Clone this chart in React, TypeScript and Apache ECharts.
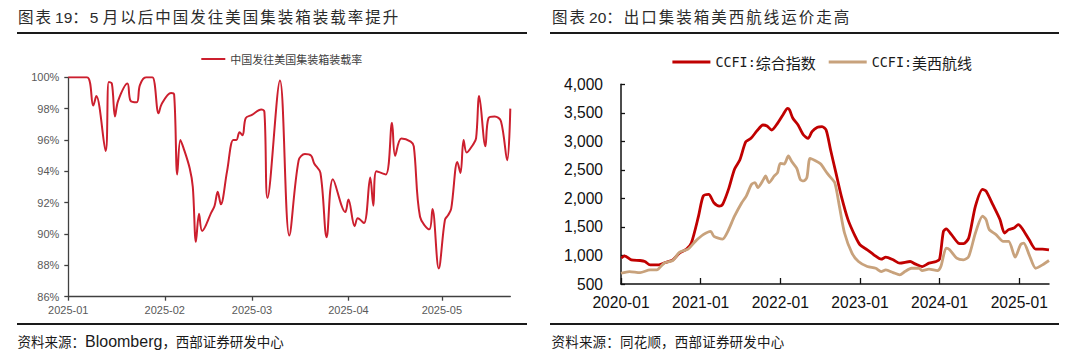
import React, { useEffect, useRef } from 'react';
import * as echarts from 'echarts';

// ---------- Chart 19: China -> US container loading rate (%) ----------
const loadDates = [
  '2025-01-01', '2025-01-07', '2025-01-09', '2025-01-10', '2025-01-13', '2025-01-14', '2025-01-15',
  '2025-01-16', '2025-01-17', '2025-01-20', '2025-01-21', '2025-01-23', '2025-01-24', '2025-01-26',
  '2025-01-28', '2025-01-30', '2025-01-31', '2025-02-03', '2025-02-04', '2025-02-05', '2025-02-06',
  '2025-02-07', '2025-02-09', '2025-02-10', '2025-02-11', '2025-02-12', '2025-02-13', '2025-02-16',
  '2025-02-17', '2025-02-18', '2025-02-19', '2025-02-21', '2025-02-23', '2025-02-24', '2025-02-25',
  '2025-02-26', '2025-02-27', '2025-03-01', '2025-03-04', '2025-03-05', '2025-03-06', '2025-03-10',
  '2025-03-13', '2025-03-16', '2025-03-18', '2025-03-20', '2025-03-21', '2025-03-23', '2025-03-25',
  '2025-03-27', '2025-03-31', '2025-04-01', '2025-04-03', '2025-04-04', '2025-04-06', '2025-04-08',
  '2025-04-09', '2025-04-10', '2025-04-13', '2025-04-15', '2025-04-16', '2025-04-18', '2025-04-21',
  '2025-04-22', '2025-04-24', '2025-04-27', '2025-04-28', '2025-04-30', '2025-05-02', '2025-05-03',
  '2025-05-04', '2025-05-06', '2025-05-07', '2025-05-08', '2025-05-09', '2025-05-11', '2025-05-12',
  '2025-05-13', '2025-05-15', '2025-05-16', '2025-05-18', '2025-05-20', '2025-05-22', '2025-05-23',
];
const loadRates = [
  100, 100, 98.2, 98.8, 95.3, 99.7, 99.6,
  97.5, 98.5, 99.6, 98.5, 98.4, 99.5, 100,
  100, 97.7, 98.3, 99.0, 98.9, 93.8, 96.0,
  95.5, 94.2, 93.0, 89.5, 91.3, 90.2, 91.4,
  91.8, 92.7, 91.9, 94.0, 96.0, 96.0, 96.5,
  96.3, 97.4, 97.6, 97.95, 97.8, 92.3, 99.8,
  89.9, 94.7, 95.1, 95.0, 94.5, 93.9, 89.8,
  93.5, 91.4, 92.2, 90.5, 91.0, 90.7, 93.6,
  91.8, 94.0, 93.8, 97.1, 95.0, 96.1, 95.9,
  95.6, 91.1, 90.3, 91.6, 87.8, 90.9, 91.2,
  91.6, 94.6, 93.9, 96.0, 95.2, 95.7, 96.1,
  98.8, 95.6, 97.4, 97.5, 97.2, 94.7, 98.0,
];
const loadAxisStart = '2025-01-01';
const loadAxisEnd = '2025-05-23';
const loadTickDates = ['2025-01-01', '2025-02-01', '2025-03-01', '2025-04-01', '2025-05-01'];
const loadTickLabels = ['2025-01', '2025-02', '2025-03', '2025-04', '2025-05'];

// ---------- Chart 20: CCFI composite and US West route ----------
const compDates = [
  '2020-01-03', '2020-01-17', '2020-02-17', '2020-03-28', '2020-04-19', '2020-05-13', '2020-06-22',
  '2020-07-22', '2020-08-26', '2020-09-25', '2020-10-28', '2020-11-19', '2020-12-22', '2021-01-13',
  '2021-02-07', '2021-03-01', '2021-03-26', '2021-04-10', '2021-05-07', '2021-06-04', '2021-06-28',
  '2021-07-26', '2021-08-19', '2021-09-16', '2021-10-13', '2021-11-01', '2021-11-22', '2021-12-19',
  '2022-01-13', '2022-02-04', '2022-02-12', '2022-02-26', '2022-03-22', '2022-04-16', '2022-05-07',
  '2022-05-25', '2022-06-19', '2022-07-10', '2022-07-29', '2022-08-19', '2022-09-13', '2022-10-07',
  '2022-11-07', '2022-12-10', '2023-01-01', '2023-02-04', '2023-03-04', '2023-04-07', '2023-04-28',
  '2023-06-01', '2023-07-01', '2023-08-19', '2023-09-10', '2023-10-13', '2023-11-13', '2023-12-16',
  '2024-01-01', '2024-01-19', '2024-02-01', '2024-02-24', '2024-03-26', '2024-04-19', '2024-05-13',
  '2024-06-13', '2024-07-16', '2024-08-01', '2024-09-01', '2024-10-04', '2024-10-25', '2024-11-13',
  '2024-12-07', '2024-12-28', '2025-01-13', '2025-02-15', '2025-03-16', '2025-04-16', '2025-05-16',
];
const compValues = [
  953, 994, 924, 912, 894, 835, 835,
  876, 924, 1041, 1112, 1218, 1688, 2041,
  2071, 1924, 1865, 1894, 2159, 2512, 2673,
  2994, 3053, 3187, 3287, 3269, 3199, 3316,
  3462, 3579, 3550, 3404, 3287, 3111, 3053,
  3170, 3246, 3257, 3199, 2848, 2439, 2041,
  1629, 1335, 1188, 1100, 1012, 935, 971,
  924, 865, 894, 853, 806, 865, 894,
  935, 1424, 1465, 1365, 1218, 1206, 1306,
  1865, 2159, 2129, 1894, 1629, 1394, 1453,
  1482, 1541, 1482, 1276, 1112, 1112, 1100,
];
const westDates = [
  '2020-01-01', '2020-02-09', '2020-03-28', '2020-05-13', '2020-06-13', '2020-07-16', '2020-08-26',
  '2020-09-25', '2020-11-04', '2020-12-07', '2021-01-13', '2021-02-15', '2021-03-01', '2021-04-10',
  '2021-05-04', '2021-06-04', '2021-07-07', '2021-07-28', '2021-08-22', '2021-09-07', '2021-09-19',
  '2021-10-16', '2021-10-25', '2021-11-10', '2021-12-04', '2021-12-19', '2022-01-01', '2022-01-19',
  '2022-02-07', '2022-02-22', '2022-03-16', '2022-04-01', '2022-04-16', '2022-05-01', '2022-05-16',
  '2022-06-10', '2022-07-04', '2022-07-29', '2022-08-13', '2022-09-07', '2022-09-28', '2022-10-22',
  '2022-11-25', '2022-12-25', '2023-02-04', '2023-03-13', '2023-04-07', '2023-04-28', '2023-06-01',
  '2023-07-01', '2023-07-25', '2023-08-25', '2023-09-28', '2023-10-13', '2023-11-13', '2023-12-22',
  '2024-01-07', '2024-02-01', '2024-02-16', '2024-03-19', '2024-04-19', '2024-05-13', '2024-06-13',
  '2024-07-16', '2024-08-01', '2024-08-16', '2024-09-16', '2024-10-19', '2024-11-13', '2024-12-13',
  '2025-01-07', '2025-01-22', '2025-02-15', '2025-03-16', '2025-04-16', '2025-05-16',
];
const westValues = [
  688, 718, 700, 747, 747, 865, 912,
  1053, 1112, 1247, 1365, 1424, 1335, 1288,
  1424, 1688, 1924, 2041, 2247, 2276, 2188,
  2335, 2394, 2276, 2394, 2450, 2614, 2602,
  2743, 2643, 2526, 2335, 2306, 2365, 2702,
  2661, 2602, 2468, 2394, 2276, 1865, 1394,
  1041, 894, 806, 776, 718, 747, 700,
  659, 718, 776, 776, 735, 759, 735,
  806, 1129, 1100, 953, 924, 982, 1394,
  1688, 1629, 1453, 1365, 1247, 1247, 971,
  1188, 1218, 1012, 776, 835, 912,
];
const ccfiAxisEnd = '2025-05-16';
const ccfiTickDates = ['2020-01-01', '2021-01-01', '2022-01-01', '2023-01-01', '2024-01-01', '2025-01-01'];
const ccfiTickLabels = ['2020-01', '2021-01', '2022-01', '2023-01', '2024-01', '2025-01'];

// ---------- helpers ----------
const ymd = (s: string) => s.split('-').map(Number);
const dayOf = (s: string) => {
  const [y, m, d] = ymd(s);
  const [y0, m0, d0] = ymd(loadAxisStart);
  return Math.round((Date.UTC(y, m - 1, d) - Date.UTC(y0, m0 - 1, d0)) / 86400000);
};
const monthOf = (s: string) => {
  const [y, m, d] = ymd(s);
  const dim = new Date(Date.UTC(y, m, 0)).getUTCDate();
  return (y - 2020) * 12 + (m - 1) + (d - 1) / dim;
};

const CJK = '"Noto Sans CJK SC", "Noto Sans", sans-serif';
const LAT = '"Liberation Sans", Arial, sans-serif';

export default function App() {
  const ref = useRef<HTMLDivElement>(null);

  useEffect(() => {
    if (!ref.current) return;
    const chart = echarts.init(ref.current, null, { renderer: 'svg' });

    const loadTickDays = loadTickDates.map(dayOf);
    const ccfiTicks = ccfiTickDates.map(monthOf);

    const option: any = {
      animation: false,
      backgroundColor: '#ffffff',
      grid: [
        { left: 68.3, right: 569.7, top: 77.3, bottom: 55.3, outerBoundsMode: 'none', containLabel: false },
        { left: 621, right: 31, top: 84.3, bottom: 68, outerBoundsMode: 'none', containLabel: false },
      ],
      legend: [
        {
          data: ['中国发往美国集装箱装载率'],
          left: 196.3,
          top: 48.5,
          icon: 'rect',
          itemWidth: 24,
          itemHeight: 2,
          textStyle: { fontSize: 11, color: '#404040', fontFamily: CJK },
        },
        {
          data: ['CCFI:综合指数', 'CCFI:美西航线'],
          left: 667.4,
          top: 49.5,
          icon: 'rect',
          itemWidth: 38,
          itemHeight: 3,
          itemGap: 13,
          formatter: (name: string) => {
            const [a, b] = name.split(':');
            return `{a|${a}:}{b|${b}}`;
          },
          textStyle: {
            color: '#1a1a1a',
            rich: {
              a: { fontFamily: '"DejaVu Sans Mono", monospace', fontSize: 13.4, color: '#1a1a1a' },
              b: { fontFamily: CJK, fontSize: 15, color: '#1a1a1a' },
            },
          },
        },
      ],
      xAxis: [
        {
          gridIndex: 0,
          type: 'value',
          min: dayOf(loadAxisStart),
          max: dayOf(loadAxisEnd),
          splitLine: { show: false },
          axisLine: { show: true, onZero: false, lineStyle: { color: '#404040', width: 1.3 } },
          axisTick: { show: true, inside: false, length: 4, customValues: loadTickDays, lineStyle: { color: '#404040', width: 1.3 } },
          axisLabel: {
            customValues: loadTickDays,
            margin: 8,
            color: '#595959',
            fontSize: 11,
            fontFamily: LAT,
            formatter: (v: number) => {
              const i = loadTickDays.indexOf(Math.round(v));
              return i >= 0 ? loadTickLabels[i] : '';
            },
          },
        },
        {
          gridIndex: 1,
          type: 'value',
          min: 0,
          max: monthOf(ccfiAxisEnd),
          splitLine: { show: false },
          axisLine: { show: true, onZero: false, lineStyle: { color: '#111111', width: 1.5 } },
          axisTick: { show: true, inside: true, length: 6, customValues: ccfiTicks, lineStyle: { color: '#111111', width: 1.3 } },
          axisLabel: {
            customValues: ccfiTicks,
            margin: 10,
            color: '#111111',
            fontSize: 15.6,
            fontFamily: LAT,
            formatter: (v: number) => {
              const i = ccfiTicks.findIndex((t) => Math.abs(t - v) < 0.01);
              return i >= 0 ? ccfiTickLabels[i] : '';
            },
          },
        },
      ],
      yAxis: [
        {
          gridIndex: 0,
          type: 'value',
          min: 86,
          max: 100,
          interval: 2,
          splitLine: { show: false },
          axisLine: { show: true, lineStyle: { color: '#404040', width: 1.3 } },
          axisTick: { show: true, inside: false, length: 4, lineStyle: { color: '#404040', width: 1.3 } },
          axisLabel: { margin: 9, color: '#595959', fontSize: 11, fontFamily: LAT, formatter: (v: number) => `${v}%` },
        },
        {
          gridIndex: 1,
          type: 'value',
          min: 500,
          max: 4000,
          interval: 500,
          splitLine: { show: false },
          axisLine: { show: true, lineStyle: { color: '#111111', width: 1.5 } },
          axisTick: { show: true, inside: true, length: 4, lineStyle: { color: '#111111', width: 1.3 } },
          axisLabel: {
            margin: 18,
            color: '#111111',
            fontSize: 15.6,
            fontFamily: LAT,
            formatter: (v: number) => v.toLocaleString('en-US'),
          },
        },
      ],
      series: [
        {
          name: '中国发往美国集装箱装载率',
          type: 'line',
          xAxisIndex: 0,
          yAxisIndex: 0,
          data: loadDates.map((d, i) => [dayOf(d), loadRates[i]]),
          symbol: 'none',
          smooth: 0.35,
          color: '#CC1F2E',
          lineStyle: { width: 2, color: '#CC1F2E' },
        },
        {
          name: 'CCFI:综合指数',
          type: 'line',
          xAxisIndex: 1,
          yAxisIndex: 1,
          data: compDates.map((d, i) => [monthOf(d), compValues[i]]),
          symbol: 'none',
          smooth: 0.25,
          color: '#C00000',
          lineStyle: { width: 2.8, color: '#C00000' },
        },
        {
          name: 'CCFI:美西航线',
          type: 'line',
          xAxisIndex: 1,
          yAxisIndex: 1,
          data: westDates.map((d, i) => [monthOf(d), westValues[i]]),
          symbol: 'none',
          smooth: 0.25,
          color: '#C8A27C',
          lineStyle: { width: 2.8, color: '#C8A27C' },
        },
      ],
    };

    chart.setOption(option);
    return () => chart.dispose();
  }, []);

  const abs = (extra: React.CSSProperties): React.CSSProperties => ({
    position: 'absolute',
    whiteSpace: 'pre',
    pointerEvents: 'none',
    ...extra,
  });
  const cj = (ls: number): React.CSSProperties => ({ fontFamily: CJK, letterSpacing: `${ls}px` });
  const lt: React.CSSProperties = { fontFamily: LAT, letterSpacing: 0 };
  const rule = (left: number, right: number, top: number): React.CSSProperties =>
    abs({ left, top, width: right - left, height: 2, background: '#1a1a1a' });

  return (
    <div style={{ position: 'fixed', left: 0, top: 0, width: 1080, height: 352, background: '#ffffff', overflow: 'hidden' }}>
      <div ref={ref} style={{ position: 'absolute', left: 0, top: 0, width: 1080, height: 352 }} />

      {/* titles */}
      <div style={abs({ left: 18, top: 6, fontSize: 15.5, lineHeight: '20px', color: '#2b2b2b' })}>
        <span style={cj(2)}>图表</span>
        <span style={{ ...lt, marginLeft: 2 }}>19</span>
        <span style={cj(2)}>：</span>
        <span style={lt}>5 </span>
        <span style={cj(2)}>月以后中国发往美国集装箱装载率提升</span>
      </div>
      <div style={abs({ left: 552, top: 6, fontSize: 15.5, lineHeight: '20px', color: '#2b2b2b' })}>
        <span style={cj(2)}>图表</span>
        <span style={{ ...lt, marginLeft: 2 }}>20</span>
        <span style={cj(2)}>：出口集装箱美西航线运价走高</span>
      </div>

      {/* rules */}
      <div style={rule(17.2, 526.9, 31.7)} />
      <div style={rule(549.6, 1059.3, 31.7)} />
      <div style={rule(17.2, 526.9, 323)} />
      <div style={rule(549.6, 1059.3, 323)} />

      {/* sources */}
      <div style={abs({ left: 17.5, top: 333, fontSize: 13.5, lineHeight: '17px', color: '#1a1a1a' })}>
        <span style={cj(0)}>资料来源：</span>
        <span style={{ ...lt, fontSize: 16 }}>Bloomberg</span>
        <span style={cj(0)}>，西部证券研发中心</span>
      </div>
      <div style={abs({ left: 551.5, top: 333, fontSize: 13.5, lineHeight: '17px', color: '#1a1a1a' })}>
        <span style={cj(0.2)}>资料来源：同花顺，西部证券研发中心</span>
      </div>
    </div>
  );
}
